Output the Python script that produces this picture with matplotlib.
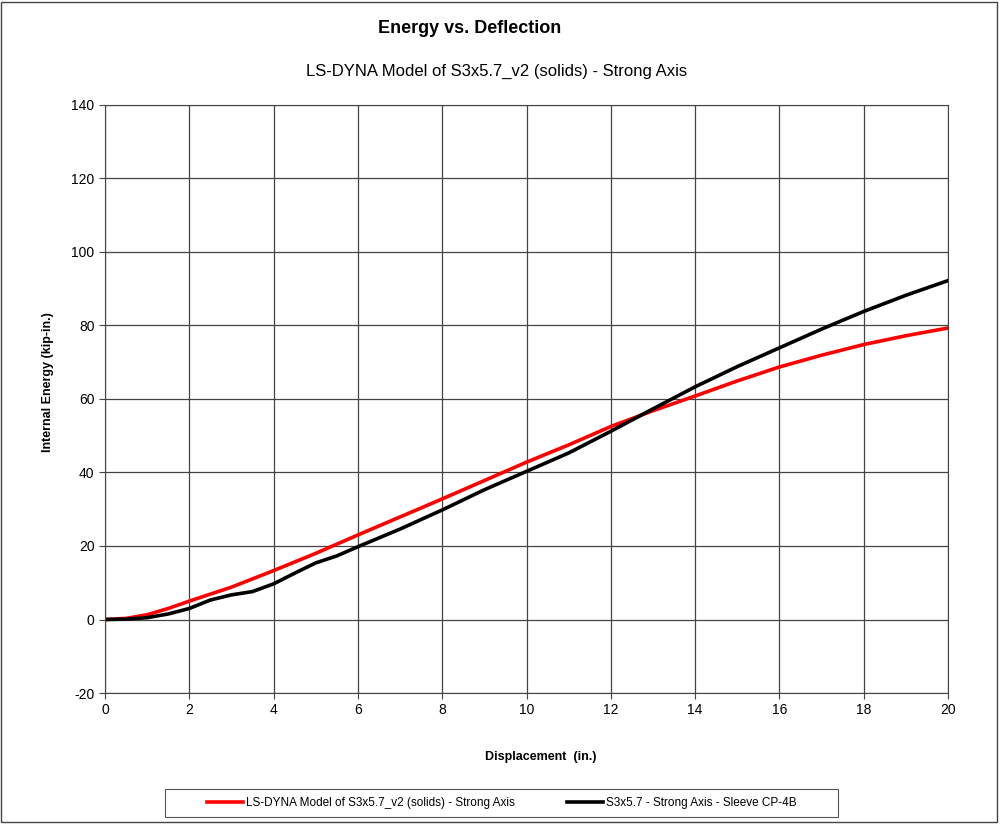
import matplotlib
matplotlib.use('Agg')
from matplotlib import pyplot as plt
from matplotlib.patches import Rectangle

plt.rcParams['font.family'] = ['Liberation Sans', 'DejaVu Sans']
plt.rcParams['axes.unicode_minus'] = False

# LS-DYNA model curve
x_model = [0, 0.5, 1, 1.5, 2, 3, 4, 5, 6, 7, 8, 9, 10, 11, 12, 13, 14, 15, 16, 17, 18, 19, 20]
e_model = [0, 0.3, 1.3, 3.0, 5.0, 8.8, 13.3, 18.0, 23.0, 27.9, 32.8, 37.8, 42.8, 47.5, 52.5, 56.8, 60.8, 64.9, 68.7, 71.9, 74.8, 77.2, 79.3]

# test curve
x_test = [0, 0.5, 1, 1.5, 2, 2.5, 3, 3.5, 4, 4.5, 5, 5.5, 6, 7, 8, 9, 10, 11, 12, 13, 14, 15, 16, 17, 18, 19, 20]
e_test = [0, 0.1, 0.5, 1.5, 3.0, 5.3, 6.7, 7.6, 9.7, 12.6, 15.4, 17.3, 19.8, 24.6, 29.8, 35.3, 40.3, 45.3, 51.2, 57.3, 63.3, 68.8, 73.9, 79.0, 83.8, 88.2, 92.2]

label_model = 'LS-DYNA Model of S3x5.7_v2 (solids) - Strong Axis'
label_test = 'S3x5.7 - Strong Axis - Sleeve CP-4B'

fig = plt.figure(figsize=(10, 8.26), dpi=100)
ax = fig.add_axes([0.105, 0.161, 0.843, 0.712])

ax.plot(x_model, e_model, color='#ff0000', lw=2.6, label=label_model, solid_joinstyle='round')
ax.plot(x_test, e_test, color='black', lw=2.6, label=label_test, solid_joinstyle='round')

ax.set_xlim(0, 20)
ax.set_ylim(-20, 140)
ax.set_xticks(range(0, 21, 2))
ax.set_yticks(range(-20, 141, 20))
ax.grid(True, color='#444444', lw=0.9)
ax.set_axisbelow(True)
ax.tick_params(labelsize=10, direction='out', length=4, color='#444444')
for s in ax.spines.values():
    s.set_color('#444444')

fig.text(0.541, 1 - 757 / 826, 'Displacement  (in.)', ha='center', va='center', fontsize=9, fontweight='bold')
fig.text(0.048, 1 - 382 / 826, 'Internal Energy (kip-in.)', ha='center', va='center', rotation=90,
         fontsize=9, fontweight='bold')

fig.text(0.47, 0.966, 'Energy vs. Deflection', ha='center', va='center', fontsize=13, fontweight='bold')
fig.text(0.497, 0.913, label_model, ha='center', va='center', fontsize=12)

leg = fig.legend(loc='center', bbox_to_anchor=(0.5015, 1 - 803 / 826), ncol=2, fontsize=8.5,
                 frameon=False, handlelength=3.1, handletextpad=0.2, columnspacing=4.4)

fig.patches.append(Rectangle((0.165, 1 - 817 / 826), 0.673, 28 / 826, transform=fig.transFigure,
                             fill=False, edgecolor='#555555', lw=0.8))
fig.patches.append(Rectangle((0.001, 0.005), 0.996, 0.993, transform=fig.transFigure,
                             fill=False, edgecolor='#444444', lw=1))

fig.savefig('out.png', dpi=100)
